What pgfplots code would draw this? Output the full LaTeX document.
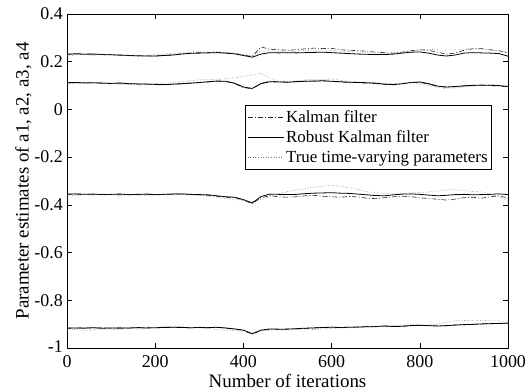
\documentclass[border=0pt]{standalone}
\usepackage{pgfplots}
\pgfplotsset{compat=1.18}
\usepackage{pgfplotstable}
\usepackage{fontspec}
\setmainfont{Liberation Serif}
\usetikzlibrary{calc}

\pgfplotstableread{
x R1 K1 T1 R2 K2 T2 R3 K3 T3 R4 K4 T4
0 0.232 0.230 0.225 0.112 0.111 0.108 -0.355 -0.356 -0.360 -0.917 -0.916 -0.925
20 0.233 0.234 0.228 0.113 0.112 0.110 -0.354 -0.355 -0.362 -0.916 -0.917 -0.922
40 0.231 0.232 0.232 0.111 0.112 0.115 -0.356 -0.357 -0.356 -0.917 -0.915 -0.926
60 0.232 0.233 0.226 0.112 0.110 0.112 -0.355 -0.354 -0.360 -0.915 -0.916 -0.924
80 0.230 0.229 0.232 0.110 0.111 0.114 -0.357 -0.358 -0.354 -0.917 -0.916 -0.920
100 0.229 0.230 0.228 0.109 0.108 0.110 -0.356 -0.357 -0.358 -0.916 -0.917 -0.923
120 0.228 0.227 0.230 0.111 0.110 0.104 -0.355 -0.354 -0.361 -0.917 -0.915 -0.921
140 0.226 0.227 0.224 0.108 0.107 0.106 -0.357 -0.358 -0.356 -0.916 -0.917 -0.918
160 0.225 0.224 0.228 0.107 0.106 0.102 -0.356 -0.357 -0.359 -0.915 -0.914 -0.920
180 0.224 0.225 0.226 0.106 0.107 0.104 -0.355 -0.354 -0.362 -0.916 -0.915 -0.917
200 0.224 0.223 0.230 0.105 0.104 0.108 -0.357 -0.358 -0.357 -0.915 -0.916 -0.914
220 0.226 0.227 0.232 0.104 0.103 0.110 -0.356 -0.357 -0.355 -0.914 -0.913 -0.910
240 0.228 0.229 0.234 0.106 0.105 0.112 -0.355 -0.354 -0.352 -0.913 -0.914 -0.908
260 0.232 0.233 0.238 0.108 0.107 0.116 -0.354 -0.355 -0.354 -0.914 -0.913 -0.911
280 0.235 0.236 0.240 0.110 0.111 0.120 -0.356 -0.357 -0.358 -0.915 -0.916 -0.913
300 0.236 0.238 0.242 0.113 0.112 0.124 -0.357 -0.358 -0.360 -0.914 -0.913 -0.916
320 0.237 0.238 0.240 0.116 0.115 0.125 -0.358 -0.360 -0.364 -0.915 -0.914 -0.918
340 0.238 0.239 0.243 0.119 0.118 0.126 -0.362 -0.364 -0.370 -0.913 -0.914 -0.922
360 0.236 0.237 0.238 0.118 0.117 0.128 -0.366 -0.368 -0.374 -0.916 -0.917 -0.925
380 0.233 0.234 0.236 0.110 0.108 0.132 -0.368 -0.370 -0.378 -0.920 -0.921 -0.928
400 0.226 0.228 0.230 0.094 0.092 0.138 -0.378 -0.380 -0.382 -0.925 -0.927 -0.930
420 0.219 0.222 0.226 0.088 0.086 0.145 -0.392 -0.395 -0.386 -0.940 -0.942 -0.935
440 0.232 0.262 0.245 0.108 0.110 0.150 -0.365 -0.370 -0.378 -0.925 -0.927 -0.928
460 0.238 0.252 0.245 0.116 0.118 0.132 -0.355 -0.362 -0.366 -0.920 -0.921 -0.926
480 0.237 0.250 0.242 0.115 0.116 0.118 -0.356 -0.366 -0.352 -0.921 -0.922 -0.924
500 0.238 0.248 0.246 0.114 0.115 0.116 -0.357 -0.368 -0.345 -0.921 -0.920 -0.925
520 0.237 0.250 0.243 0.116 0.117 0.120 -0.356 -0.366 -0.338 -0.919 -0.920 -0.922
540 0.238 0.254 0.248 0.118 0.119 0.124 -0.353 -0.362 -0.332 -0.917 -0.918 -0.920
560 0.239 0.257 0.245 0.119 0.118 0.126 -0.351 -0.360 -0.326 -0.916 -0.915 -0.923
580 0.240 0.255 0.250 0.120 0.120 0.124 -0.350 -0.364 -0.322 -0.914 -0.915 -0.920
600 0.238 0.256 0.247 0.118 0.117 0.128 -0.349 -0.366 -0.318 -0.913 -0.912 -0.918
620 0.236 0.250 0.244 0.116 0.115 0.122 -0.351 -0.368 -0.322 -0.914 -0.915 -0.916
640 0.234 0.248 0.243 0.114 0.113 0.118 -0.352 -0.365 -0.328 -0.913 -0.912 -0.915
660 0.232 0.246 0.240 0.113 0.112 0.116 -0.355 -0.367 -0.336 -0.912 -0.913 -0.914
680 0.231 0.244 0.238 0.112 0.110 0.114 -0.358 -0.372 -0.344 -0.911 -0.910 -0.912
700 0.230 0.240 0.236 0.110 0.108 0.112 -0.361 -0.374 -0.350 -0.910 -0.911 -0.910
720 0.230 0.238 0.236 0.106 0.105 0.110 -0.362 -0.370 -0.352 -0.908 -0.907 -0.908
740 0.232 0.236 0.234 0.104 0.103 0.108 -0.358 -0.366 -0.354 -0.910 -0.911 -0.906
760 0.236 0.240 0.238 0.108 0.107 0.110 -0.355 -0.364 -0.352 -0.909 -0.908 -0.904
780 0.240 0.246 0.244 0.113 0.112 0.112 -0.354 -0.366 -0.350 -0.906 -0.907 -0.902
800 0.241 0.250 0.248 0.115 0.114 0.108 -0.356 -0.370 -0.348 -0.905 -0.904 -0.903
820 0.236 0.248 0.252 0.108 0.106 0.100 -0.359 -0.374 -0.346 -0.906 -0.907 -0.904
840 0.228 0.240 0.250 0.098 0.097 0.092 -0.362 -0.376 -0.342 -0.908 -0.907 -0.900
860 0.224 0.232 0.248 0.094 0.093 0.088 -0.360 -0.380 -0.338 -0.906 -0.907 -0.892
880 0.228 0.236 0.250 0.096 0.095 0.090 -0.357 -0.376 -0.336 -0.904 -0.903 -0.886
900 0.236 0.248 0.252 0.099 0.098 0.094 -0.356 -0.370 -0.340 -0.902 -0.903 -0.885
920 0.238 0.254 0.256 0.101 0.100 0.097 -0.358 -0.368 -0.344 -0.901 -0.900 -0.884
940 0.237 0.255 0.252 0.102 0.101 0.100 -0.357 -0.372 -0.346 -0.899 -0.900 -0.885
960 0.236 0.250 0.248 0.101 0.100 0.104 -0.356 -0.366 -0.355 -0.898 -0.897 -0.886
980 0.234 0.246 0.245 0.100 0.098 0.102 -0.354 -0.362 -0.368 -0.897 -0.898 -0.887
1000 0.223 0.236 0.238 0.096 0.094 0.098 -0.357 -0.372 -0.385 -0.896 -0.895 -0.888
}\data

\begin{document}
\begin{tikzpicture}
\begin{axis}[
  scale only axis,
  width=441bp, height=334bp,
  xmin=0, xmax=1000, ymin=-1, ymax=0.4,
  xtick={0,200,...,1000},
  ytick={-1,-0.8,-0.6,-0.4,-0.2,0,0.2,0.4},
  yticklabels={\raisebox{2bp}{-1}\hspace{4bp},-0.8,-0.6,-0.4,-0.2,0,0.2,0.4},
  xticklabels={0,200,400,600,800,1000},
  tick align=inside,
  major tick length=5bp,
  axis line style={line width=0.6pt},
  tick style={line width=0.5pt, black},
  every tick label/.append style={font=\fontsize{18}{20}\selectfont},
  yticklabel style={inner sep=1bp, xshift=-3bp},
  xticklabel style={inner sep=1bp, yshift=-6bp},
  xlabel={Number of iterations},
  ylabel={Parameter estimates of a1, a2, a3, a4},
  xlabel style={font=\fontsize{19}{21}\selectfont, at={(axis description cs:0.5,-0.1168)}, anchor=base},
  ylabel style={font=\fontsize{19}{21}\selectfont, at={(axis description cs:-0.0873,0.5)}, anchor=base, rotate=0},
  legend style={at={(0.4036,0.7275)}, anchor=north west,
    font=\fontsize{17}{19}\selectfont, draw=black, line width=0.5pt,
    inner xsep=2bp, inner ysep=3bp, row sep=3bp, cells={anchor=west}},
  legend cell align=left,
  legend image code/.code={\draw[#1] (0bp,0bp) -- (36bp,0bp);},
  clip=true,
]
\pgfplotsset{
  kal/.style={black!85, line width=0.6pt, dash pattern=on 5pt off 2pt on 1pt off 2pt},
  rob/.style={black, line width=0.8pt},
  tru/.style={black!55, line width=0.6pt, dotted},
}
\addplot[kal] table[x=x,y=K1]{\data};
\addlegendentry{Kalman filter}
\addplot[rob] table[x=x,y=R1]{\data};
\addlegendentry{Robust Kalman filter}
\addplot[tru] table[x=x,y=T1]{\data};
\addlegendentry{True time-varying parameters}
\addplot[kal, forget plot] table[x=x,y=K2]{\data};
\addplot[rob, forget plot] table[x=x,y=R2]{\data};
\addplot[tru, forget plot] table[x=x,y=T2]{\data};
\addplot[kal, forget plot] table[x=x,y=K3]{\data};
\addplot[rob, forget plot] table[x=x,y=R3]{\data};
\addplot[tru, forget plot] table[x=x,y=T3]{\data};
\addplot[kal, forget plot] table[x=x,y=K4]{\data};
\addplot[rob, forget plot] table[x=x,y=R4]{\data};
\addplot[tru, forget plot] table[x=x,y=T4]{\data};
\end{axis}
\pgfresetboundingbox
\path[use as bounding box] ($(current axis.south west)+(-67bp,-44bp)$) rectangle ($(current axis.north east)+(22bp,14bp)$);
\end{tikzpicture}
\end{document}
